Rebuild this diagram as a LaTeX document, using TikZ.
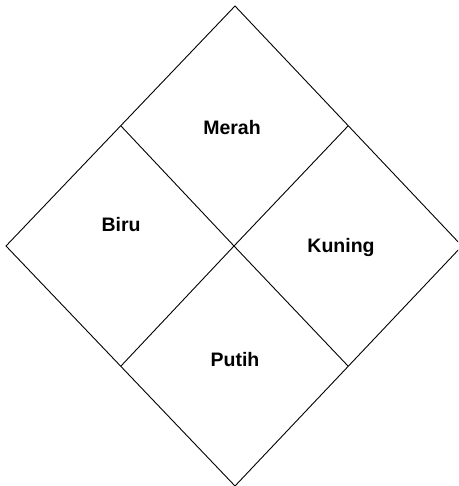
\documentclass[tikz,border=0pt]{standalone}
\usepackage{fontspec}
\setmainfont{Liberation Sans}
\begin{document}
\begin{tikzpicture}[x=1pt,y=-1pt,
  edge/.style={draw=black,line width=0.9pt,line join=miter},
  lbl/.style={font=\fontsize{19.5}{22}\selectfont\bfseries,inner sep=0pt,anchor=center}]
\useasboundingbox (0,0) rectangle (458,486);
\clip (0,0) rectangle (458,486);
\coordinate (T) at (235,6);
\coordinate (R) at (462,246);
\coordinate (B) at (235,486);
\coordinate (L) at (6,246);
\coordinate (C) at (234,246);
\coordinate (ML) at (121,126);
\coordinate (MR) at (348,126);
\coordinate (BB) at (121,366);
\coordinate (KB) at (348,366);
\draw[edge] (T) -- (R) -- (B) -- (L) -- cycle;
\draw[edge] (ML) -- (C) -- (KB);
\draw[edge] (MR) -- (C) -- (BB);
\node[lbl] (merah) at (232,128) {Merah};
\node[lbl] (biru) at (121,224.5) {Biru};
\node[lbl] (kuning) at (341,247) {Kuning};
\node[lbl] (putih) at (235,360) {Putih};
\end{tikzpicture}
\end{document}
